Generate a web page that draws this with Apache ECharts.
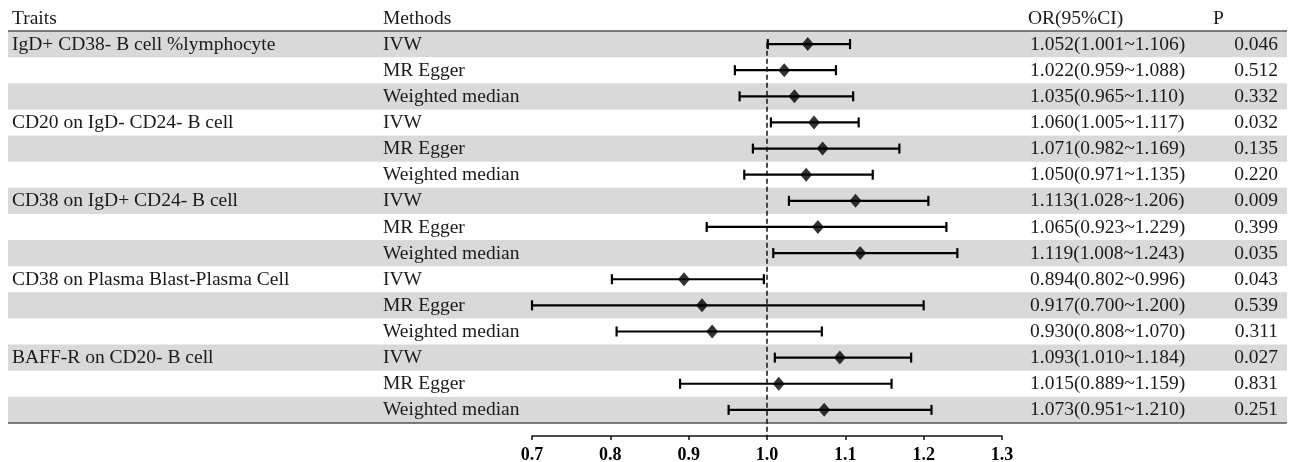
<!DOCTYPE html>
<html>
<head>
<meta charset="utf-8">
<script src="https://cdn.jsdelivr.net/npm/echarts@6/dist/echarts.min.js"></script>
<style>html,body{margin:0;padding:0;background:#fff}#c{width:1293px;height:462px}</style>
</head>
<body>
<div id="c"></div>
<script>
const headers = ["Traits", "Methods", "OR(95%CI)", "P"];
const traits = [
  "IgD+ CD38- B cell %lymphocyte", "", "",
  "CD20 on IgD- CD24- B cell", "", "",
  "CD38 on IgD+ CD24- B cell", "", "",
  "CD38 on Plasma Blast-Plasma Cell", "", "",
  "BAFF-R on CD20- B cell", "", ""
];
const methods = [
  "IVW", "MR Egger", "Weighted median",
  "IVW", "MR Egger", "Weighted median",
  "IVW", "MR Egger", "Weighted median",
  "IVW", "MR Egger", "Weighted median",
  "IVW", "MR Egger", "Weighted median"
];
const orValues = [1.052, 1.022, 1.035, 1.060, 1.071, 1.050, 1.113, 1.065, 1.119, 0.894, 0.917, 0.930, 1.093, 1.015, 1.073];
const ciLower  = [1.001, 0.959, 0.965, 1.005, 0.982, 0.971, 1.028, 0.923, 1.008, 0.802, 0.700, 0.808, 1.010, 0.889, 0.951];
const ciUpper  = [1.106, 1.088, 1.110, 1.117, 1.169, 1.135, 1.206, 1.229, 1.243, 0.996, 1.200, 1.070, 1.184, 1.159, 1.210];
const pValues  = ["0.046", "0.512", "0.332", "0.032", "0.135", "0.220", "0.009", "0.399", "0.035", "0.043", "0.539", "0.311", "0.027", "0.831", "0.251"];
const xTicks = [0.7, 0.8, 0.9, 1.0, 1.1, 1.2, 1.3];
const nullValue = 1.0;

const FONT = '"Liberation Serif", "Times New Roman", serif';
const TXT = '19.5px ' + FONT;
const TXTC = '#1a1a1a';
const LEFT = 8, RIGHT = 1287;
const COL_TRAIT = 12, COL_METHOD = 383, COL_OR = 1030, COL_P = 1278;

const chart = echarts.init(document.getElementById('c'));
const n = methods.length;

function headerText(txt, x) {
  return { type: 'text', x: x, y: 19, style: { text: txt, font: TXT, fill: TXTC, verticalAlign: 'middle' } };
}

chart.setOption({
  animation: false,
  backgroundColor: '#fff',
  grid: { left: 532, right: 291, top: 31, bottom: 26, containLabel: false, outerBoundsMode: 'none' },
  xAxis: {
    type: 'value', min: xTicks[0], max: xTicks[xTicks.length - 1], interval: 0.1,
    splitLine: { show: false },
    axisLine: { show: true, onZero: false, lineStyle: { color: '#111', width: 1.5 } },
    axisTick: { show: true, length: 4, lineStyle: { color: '#111', width: 1.5 } },
    axisLabel: { margin: 10, color: '#000', fontFamily: FONT, fontSize: 18, fontWeight: 'bold',
      formatter: v => v.toFixed(1) }
  },
  yAxis: { type: 'value', min: -0.5, max: 15, inverse: true, show: false },
  graphic: [
    headerText(headers[0], COL_TRAIT),
    headerText(headers[1], COL_METHOD),
    headerText(headers[2], 1028),
    headerText(headers[3], 1213)
  ],
  series: [
    {
      type: 'custom', z: 1, silent: true,
      data: methods.map((m, i) => [nullValue, i]),
      encode: { x: 0, y: 1 },
      renderItem: function (params, api) {
        const i = api.value(1);
        const y = api.coord([nullValue, i])[1];
        const h = api.size([0, 1])[1];
        const children = [];
        if (i % 2 === 0) {
          children.push({ type: 'rect', shape: { x: LEFT, y: y - h / 2, width: RIGHT - LEFT, height: h },
            style: { fill: '#d9d9d9' } });
        }
        if (i === 0) {
          children.push({ type: 'line', shape: { x1: LEFT, y1: y - h / 2, x2: RIGHT, y2: y - h / 2 },
            style: { stroke: '#555', lineWidth: 1.5 } });
        }
        if (i === n - 1) {
          children.push({ type: 'line', shape: { x1: LEFT, y1: y + h / 2, x2: RIGHT, y2: y + h / 2 },
            style: { stroke: '#555', lineWidth: 1.5 } });
        }
        const orTxt = orValues[i].toFixed(3) + '(' + ciLower[i].toFixed(3) + '~' + ciUpper[i].toFixed(3) + ')';
        const texts = [
          [traits[i], COL_TRAIT, 'left'],
          [methods[i], COL_METHOD, 'left'],
          [orTxt, COL_OR, 'left'],
          [pValues[i], COL_P, 'right']
        ];
        texts.forEach(t => {
          if (t[0]) children.push({ type: 'text', style: { text: t[0], x: t[1], y: y + 0.5, align: t[2],
            verticalAlign: 'middle', font: TXT, fill: TXTC } });
        });
        return { type: 'group', children: children };
      }
    },
    {
      type: 'custom', z: 3, silent: true,
      data: orValues.map((v, i) => [ciLower[i], ciUpper[i], i]),
      encode: { x: [0, 1], y: 2 },
      renderItem: function (params, api) {
        const lo = api.coord([api.value(0), api.value(2)]);
        const hi = api.coord([api.value(1), api.value(2)]);
        const c = 5;
        const st = { stroke: '#000', lineWidth: 2.2 };
        return { type: 'group', children: [
          { type: 'line', shape: { x1: lo[0], y1: lo[1], x2: hi[0], y2: hi[1] }, style: st },
          { type: 'line', shape: { x1: lo[0], y1: lo[1] - c, x2: lo[0], y2: lo[1] + c }, style: st },
          { type: 'line', shape: { x1: hi[0], y1: hi[1] - c, x2: hi[0], y2: hi[1] + c }, style: st }
        ] };
      }
    },
    {
      type: 'scatter', z: 4, silent: true,
      symbol: 'diamond', symbolSize: [12, 14],
      itemStyle: { color: '#000' },
      data: orValues.map((v, i) => [v, i]),
      markLine: {
        silent: true, symbol: 'none', label: { show: false },
        lineStyle: { color: '#111', type: [5, 3], width: 1.5 },
        data: [[{ coord: [nullValue, -0.05] }, { coord: [nullValue, 15] }]]
      }
    }
  ]
});
</script>
</body>
</html>
